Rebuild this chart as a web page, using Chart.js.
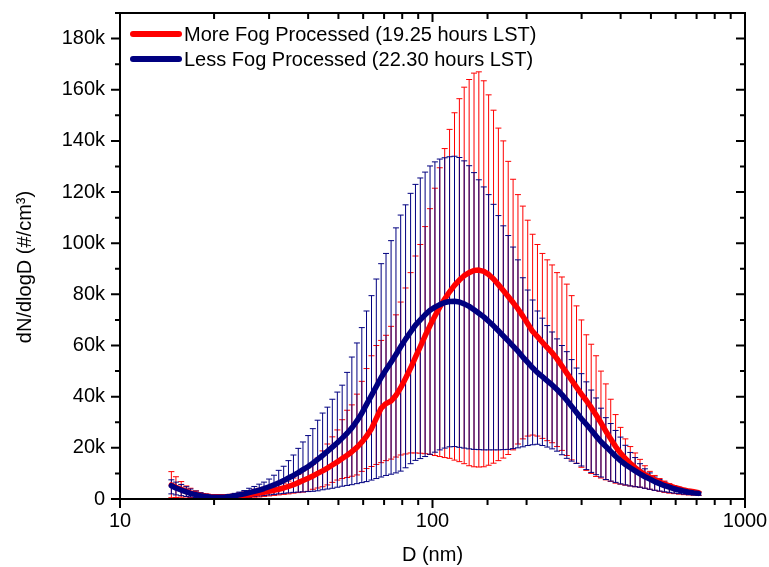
<!DOCTYPE html>
<html>
<head>
<meta charset="utf-8">
<script src="https://cdn.jsdelivr.net/npm/chart.js@4.4.0/dist/chart.umd.min.js"></script>
<style>
  html, body { margin: 0; padding: 0; background: #fff; }
</style>
</head>
<body>
<canvas id="sizeChart" width="769" height="567"></canvas>
<script>
// particle diameter channels (nm)
const diameters = [
  14.6, 15.1, 15.7, 16.3, 16.8, 17.5, 18.1, 18.8, 19.5, 20.2,
  20.9, 21.7, 22.5, 23.3, 24.1, 25.0, 25.9, 26.9, 27.9, 28.9,
  30.0, 31.1, 32.2, 33.4, 34.6, 35.9, 37.2, 38.5, 40.0, 41.4,
  42.9, 44.5, 46.1, 47.8, 49.6, 51.4, 53.3, 55.2, 57.3, 59.4,
  61.5, 63.8, 66.1, 68.5, 71.0, 73.7, 76.4, 79.1, 82.0, 85.1,
  88.2, 91.4, 94.7, 98.2, 101.8, 105.5, 109.4, 113.4, 117.6, 121.9,
  126.3, 131.0, 135.8, 140.7, 145.9, 151.2, 156.8, 162.5, 168.5, 174.7,
  181.1, 187.7, 194.6, 201.7, 209.1, 216.7, 224.7, 232.9, 241.4, 250.3,
  259.5, 269.0, 278.8, 289.0, 299.6, 310.6, 322.0, 333.8, 346.0, 358.7,
  371.8, 385.4, 399.5, 414.2, 429.4, 445.1, 461.4, 478.3, 495.8, 514.0,
  532.8, 552.3, 572.5, 593.5, 615.3, 637.8, 661.2, 685.4, 710.5
];

// dN/dlogD in thousands (#/cm3)
const redMean = [
  5.5, 4.6, 3.8, 3.0, 2.4, 1.9, 1.5, 1.2, 1.0, 0.9,
  0.9, 0.9, 1.0, 1.1, 1.3, 1.5, 1.7, 2.0, 2.3, 2.6,
  3.0, 3.4, 3.8, 4.3, 4.9, 5.6, 6.4, 7.2, 8.1, 9.0,
  10.0, 11.0, 12.1, 13.3, 14.5, 15.8, 17.1, 18.5, 20.2, 22.2,
  24.5, 27.5, 31.5, 35.5, 37.3, 38.3, 40.5, 43.5, 47.2, 51.2,
  55.5, 59.6, 63.8, 67.8, 71.5, 75.0, 78.2, 81.0, 83.5, 85.6,
  87.3, 88.5, 89.3, 89.5, 89.0, 87.8, 86.0, 83.8, 81.5, 79.2,
  76.8, 74.3, 71.5, 68.5, 65.5, 63.5, 61.3, 59.2, 57.2, 54.8,
  52.0, 49.2, 46.5, 43.7, 41.0, 38.5, 35.8, 32.8, 29.8, 26.5,
  23.5, 20.5, 18.0, 15.8, 14.0, 12.3, 10.8, 9.5, 8.5, 7.5,
  6.6, 5.8, 5.1, 4.5, 4.0, 3.5, 3.1, 2.8, 2.5
];
const redHigh = [
  10.7, 8.7, 6.8, 5.1, 4.2, 3.2, 2.2, 1.8, 1.5, 1.4,
  1.4, 1.5, 1.7, 2.0, 2.4, 2.8, 3.3, 3.8, 4.2, 4.6,
  5.0, 5.5, 5.9, 6.2, 7.0, 8.2, 9.6, 11.0, 12.2, 13.5,
  16.0, 18.8, 21.5, 24.3, 27.0, 31.0, 34.7, 36.8, 41.0, 46.0,
  51.0, 56.0, 60.0, 62.0, 64.0, 67.5, 72.0, 77.0, 82.5, 88.5,
  95.0, 99.5, 106.5, 113.5, 121.5, 129.5, 137.0, 144.5, 151.0, 156.5,
  161.0, 164.0, 166.5, 167.0, 163.5, 158.0, 152.0, 145.0, 140.0, 132.0,
  125.0, 119.0, 114.5, 109.0, 103.5, 99.5, 96.0, 93.5, 91.5, 88.5,
  86.8, 84.0, 79.5, 75.5, 70.0, 64.2, 60.5, 56.0, 50.0, 45.0,
  39.0, 33.0, 28.0, 23.5, 20.5, 18.0, 15.5, 13.0, 10.8, 9.2,
  8.0, 7.0, 6.0, 5.2, 4.6, 4.0, 3.5, 3.2, 2.9
];
const redLow = [
  0.5, 0.6, 0.7, 0.8, 0.6, 0.5, 0.5, 0.4, 0.4, 0.4,
  0.4, 0.3, 0.3, 0.3, 0.4, 0.5, 0.6, 0.7, 0.8, 1.0,
  1.2, 1.4, 1.6, 1.8, 2.0, 2.3, 2.5, 2.7, 3.0, 3.8,
  4.3, 4.8, 5.5, 6.5, 7.4, 8.0, 8.4, 8.9, 9.4, 10.8,
  11.9, 12.7, 13.5, 14.2, 15.0, 15.6, 16.4, 17.2, 17.6, 18.0,
  18.0, 17.9, 17.7, 17.4, 17.0, 16.6, 16.2, 15.9, 15.2, 14.6,
  13.8, 13.0, 12.6, 12.5, 12.6, 13.2, 14.0, 15.0, 16.0, 17.4,
  19.2, 21.5, 23.5, 24.6, 25.0, 24.6, 23.7, 22.8, 22.0, 20.5,
  19.0, 17.0, 15.3, 14.0, 12.4, 11.2, 10.0, 8.8, 8.2, 7.5,
  6.9, 6.2, 5.8, 5.4, 5.1, 4.8, 4.6, 4.2, 3.8, 3.4,
  3.0, 2.6, 2.3, 2.1, 1.9, 1.7, 1.6, 1.5, 1.4
];
const blueMean = [
  5.2, 4.3, 3.5, 2.8, 2.2, 1.7, 1.3, 1.0, 0.8, 0.7,
  0.7, 0.8, 1.0, 1.3, 1.6, 2.0, 2.5, 3.0, 3.5, 4.1,
  4.8, 5.5, 6.3, 7.2, 8.2, 9.2, 10.3, 11.5, 12.7, 14.0,
  15.5, 17.0, 18.6, 20.3, 22.0, 23.8, 25.7, 27.8, 30.5, 33.5,
  37.0, 40.5, 44.0, 47.5, 50.5, 53.5, 56.5, 59.5, 62.5, 65.3,
  68.0, 70.0, 72.0, 73.8, 75.0, 76.0, 76.8, 77.2, 77.3, 77.0,
  76.3, 75.3, 74.0, 72.6, 71.2, 69.5, 67.7, 65.8, 63.8, 61.8,
  59.8, 57.8, 55.5, 53.4, 51.3, 49.4, 47.8, 46.2, 44.6, 42.8,
  40.8, 38.6, 36.2, 33.8, 31.4, 29.2, 27.0, 24.6, 22.4, 20.5,
  18.6, 16.7, 15.0, 13.5, 12.2, 11.0, 9.8, 8.7, 7.8, 6.8,
  6.0, 5.2, 4.6, 4.0, 3.5, 3.1, 2.7, 2.4, 2.2
];
const blueHigh = [
  7.5, 6.6, 5.7, 4.8, 3.9, 3.1, 2.5, 2.0, 1.6, 1.4,
  1.4, 1.5, 1.8, 2.2, 2.7, 3.3, 4.2, 4.9, 5.8, 6.6,
  7.8, 9.3, 11.2, 12.8, 15.0, 17.2, 19.8, 22.3, 24.8, 27.5,
  30.8, 33.6, 35.9, 39.0, 41.8, 44.5, 49.5, 55.5, 61.0, 67.0,
  73.5, 79.5, 86.0, 92.0, 96.0, 101.0, 106.0, 111.0, 115.0, 119.5,
  123.0, 125.5, 127.8, 130.2, 131.8, 132.9, 133.4, 133.8, 134.0, 133.5,
  132.2, 130.3, 127.6, 124.8, 122.0, 119.0, 115.2, 110.8, 106.8, 103.0,
  98.5, 93.5, 86.5, 81.7, 77.8, 73.5, 70.7, 67.8, 65.3, 62.6,
  60.0, 57.6, 54.5, 51.2, 49.0, 45.8, 42.6, 39.5, 35.5, 31.8,
  29.5, 26.8, 24.2, 21.0, 18.2, 16.2, 13.8, 11.8, 10.2, 8.6,
  7.6, 6.6, 5.4, 4.8, 4.1, 3.6, 3.1, 2.8, 2.6
];
const blueLow = [
  2.0, 1.6, 1.3, 1.0, 0.8, 0.6, 0.5, 0.4, 0.4, 0.3,
  0.3, 0.3, 0.4, 0.5, 0.6, 0.7, 0.8, 1.0, 1.2, 1.4,
  1.6, 1.8, 2.0, 2.2, 2.4, 2.6, 2.7, 2.8, 2.9, 3.0,
  3.2, 3.6, 3.9, 4.2, 4.6, 5.0, 5.3, 5.6, 6.0, 6.4,
  6.8, 7.4, 8.0, 8.6, 9.2, 9.7, 10.2, 10.9, 12.2, 13.8,
  15.1, 15.8, 16.6, 17.5, 18.3, 19.2, 19.9, 20.4, 20.5, 20.2,
  19.9, 19.6, 19.4, 19.3, 19.2, 19.2, 19.2, 19.2, 19.3, 19.4,
  19.7, 20.0, 20.4, 20.9, 21.2, 21.4, 20.9, 20.3, 19.6, 18.7,
  17.3, 15.9, 14.8, 13.9, 12.9, 11.5, 10.4, 9.5, 8.6, 7.6,
  7.0, 6.5, 5.9, 5.5, 5.1, 4.8, 4.6, 4.2, 3.8, 3.4,
  3.1, 2.8, 2.6, 2.3, 2.1, 1.9, 1.7, 1.6, 1.5
];

const seriesLabels = ['More Fog Processed (19.25 hours LST)', 'Less Fog Processed (22.30 hours LST)'];
const yTitle = 'dN/dlogD (#/cm³)';
const RED = '#ff0000';
const NAVY = '#000080';
const FONT = "'Liberation Sans', Arial, sans-serif";

// vertical bars with caps, drawn behind the mean curves
const errorBars = {
  id: 'errorBars',
  beforeDatasetsDraw(chart) {
    const { ctx, chartArea: a, scales: { x, y } } = chart;
    ctx.save();
    ctx.beginPath();
    ctx.rect(a.left, a.top, a.width, a.height);
    ctx.clip();
    ctx.lineWidth = 1;
    const sets = [[redLow, redHigh, RED], [blueLow, blueHigh, NAVY]];
    for (const [lo, hi, col] of sets) {
      ctx.strokeStyle = col;
      ctx.beginPath();
      diameters.forEach((d, i) => {
        const px = x.getPixelForValue(d);
        const y1 = y.getPixelForValue(lo[i]);
        const y2 = y.getPixelForValue(hi[i]);
        ctx.moveTo(px, y1); ctx.lineTo(px, y2);
        ctx.moveTo(px - 3, y1); ctx.lineTo(px + 3, y1);
        ctx.moveTo(px - 3, y2); ctx.lineTo(px + 3, y2);
      });
      ctx.stroke();
    }
    ctx.restore();
  }
};

// box frame, tick marks on all four sides, y title and the legend
const frame = {
  id: 'frame',
  afterDraw(chart) {
    const { ctx, chartArea: a, scales: { x, y } } = chart;
    ctx.save();
    ctx.strokeStyle = '#000';
    ctx.lineWidth = 2;
    ctx.strokeRect(a.left, a.top, a.width, a.height);

    ctx.beginPath();
    for (let v = 0; v <= 190; v += 10) {
      const py = y.getPixelForValue(v);
      const len = v % 20 === 0 ? 9 : 5;
      ctx.moveTo(a.left - len, py); ctx.lineTo(a.left, py);
      ctx.moveTo(a.right, py); ctx.lineTo(a.right - len, py);
    }
    x.ticks.forEach(t => {
      const px = x.getPixelForValue(t.value);
      const lg = Math.log10(t.value);
      const len = Math.abs(lg - Math.round(lg)) < 1e-9 ? 9 : 6;
      ctx.moveTo(px, a.bottom); ctx.lineTo(px, a.bottom + len);
      ctx.moveTo(px, a.top); ctx.lineTo(px, a.top + len);
    });
    ctx.stroke();

    ctx.fillStyle = '#000';
    ctx.font = '20px ' + FONT;

    // y axis title
    ctx.save();
    ctx.translate(25, (a.top + a.bottom) / 2 + 11);
    ctx.rotate(-Math.PI / 2);
    ctx.textAlign = 'center';
    ctx.textBaseline = 'middle';
    ctx.fillText(yTitle, 0, 0);
    ctx.restore();

    // legend
    ctx.textBaseline = 'middle';
    ctx.lineCap = 'round';
    ctx.lineWidth = 6;
    [[seriesLabels[0], RED, 21], [seriesLabels[1], NAVY, 46]].forEach(([txt, col, dy]) => {
      ctx.strokeStyle = col;
      ctx.beginPath();
      ctx.moveTo(a.left + 13, a.top + dy);
      ctx.lineTo(a.left + 59, a.top + dy);
      ctx.stroke();
      ctx.fillText(txt, a.left + 64, a.top + dy + 1);
    });
    ctx.restore();
  }
};

const toPoints = vals => diameters.map((d, i) => ({ x: d, y: vals[i] }));

new Chart(document.getElementById('sizeChart'), {
  type: 'line',
  data: {
    datasets: [
      {
        label: seriesLabels[1],
        data: toPoints(blueMean),
        borderColor: NAVY,
        borderWidth: 5.5,
        pointRadius: 0,
        borderJoinStyle: 'round',
        borderCapStyle: 'round',
        order: 0
      },
      {
        label: seriesLabels[0],
        data: toPoints(redMean),
        borderColor: RED,
        borderWidth: 5.5,
        pointRadius: 0,
        borderJoinStyle: 'round',
        borderCapStyle: 'round',
        order: 1
      }
    ]
  },
  options: {
    responsive: false,
    animation: false,
    devicePixelRatio: 1,
    layout: { autoPadding: false, padding: { top: 13, right: 24, left: 0, bottom: 0 } },
    plugins: {
      legend: { display: false },
      tooltip: { enabled: false }
    },
    scales: {
      x: {
        type: 'logarithmic',
        min: 10,
        max: 1000,
        grid: { display: false, drawTicks: false },
        border: { display: false },
        ticks: {
          autoSkip: false,
          maxRotation: 0,
          padding: 10,
          color: '#000',
          font: { family: FONT, size: 20 },
          callback(v) {
            const lg = Math.log10(v);
            return Math.abs(lg - Math.round(lg)) < 1e-9 ? String(Math.round(v)) : '';
          }
        },
        title: {
          display: true,
          text: 'D (nm)',
          color: '#000',
          font: { family: FONT, size: 20 },
          padding: { top: 0, bottom: 0 }
        },
        afterFit(s) {
          s.height = 68;
          s.paddingLeft = 0;
          s.paddingRight = 0;
        }
      },
      y: {
        min: 0,
        max: 190,
        grid: { display: false, drawTicks: false },
        border: { display: false },
        ticks: {
          stepSize: 20,
          autoSkip: false,
          padding: 15,
          color: '#000',
          font: { family: FONT, size: 20 },
          callback(v) {
            if (v % 20 !== 0) return '';
            return v === 0 ? '0' : v + 'k';
          }
        },
        afterFit(s) {
          s.width = 120;
          s.paddingTop = 0;
          s.paddingBottom = 0;
        }
      }
    }
  },
  plugins: [errorBars, frame]
});
</script>
</body>
</html>
